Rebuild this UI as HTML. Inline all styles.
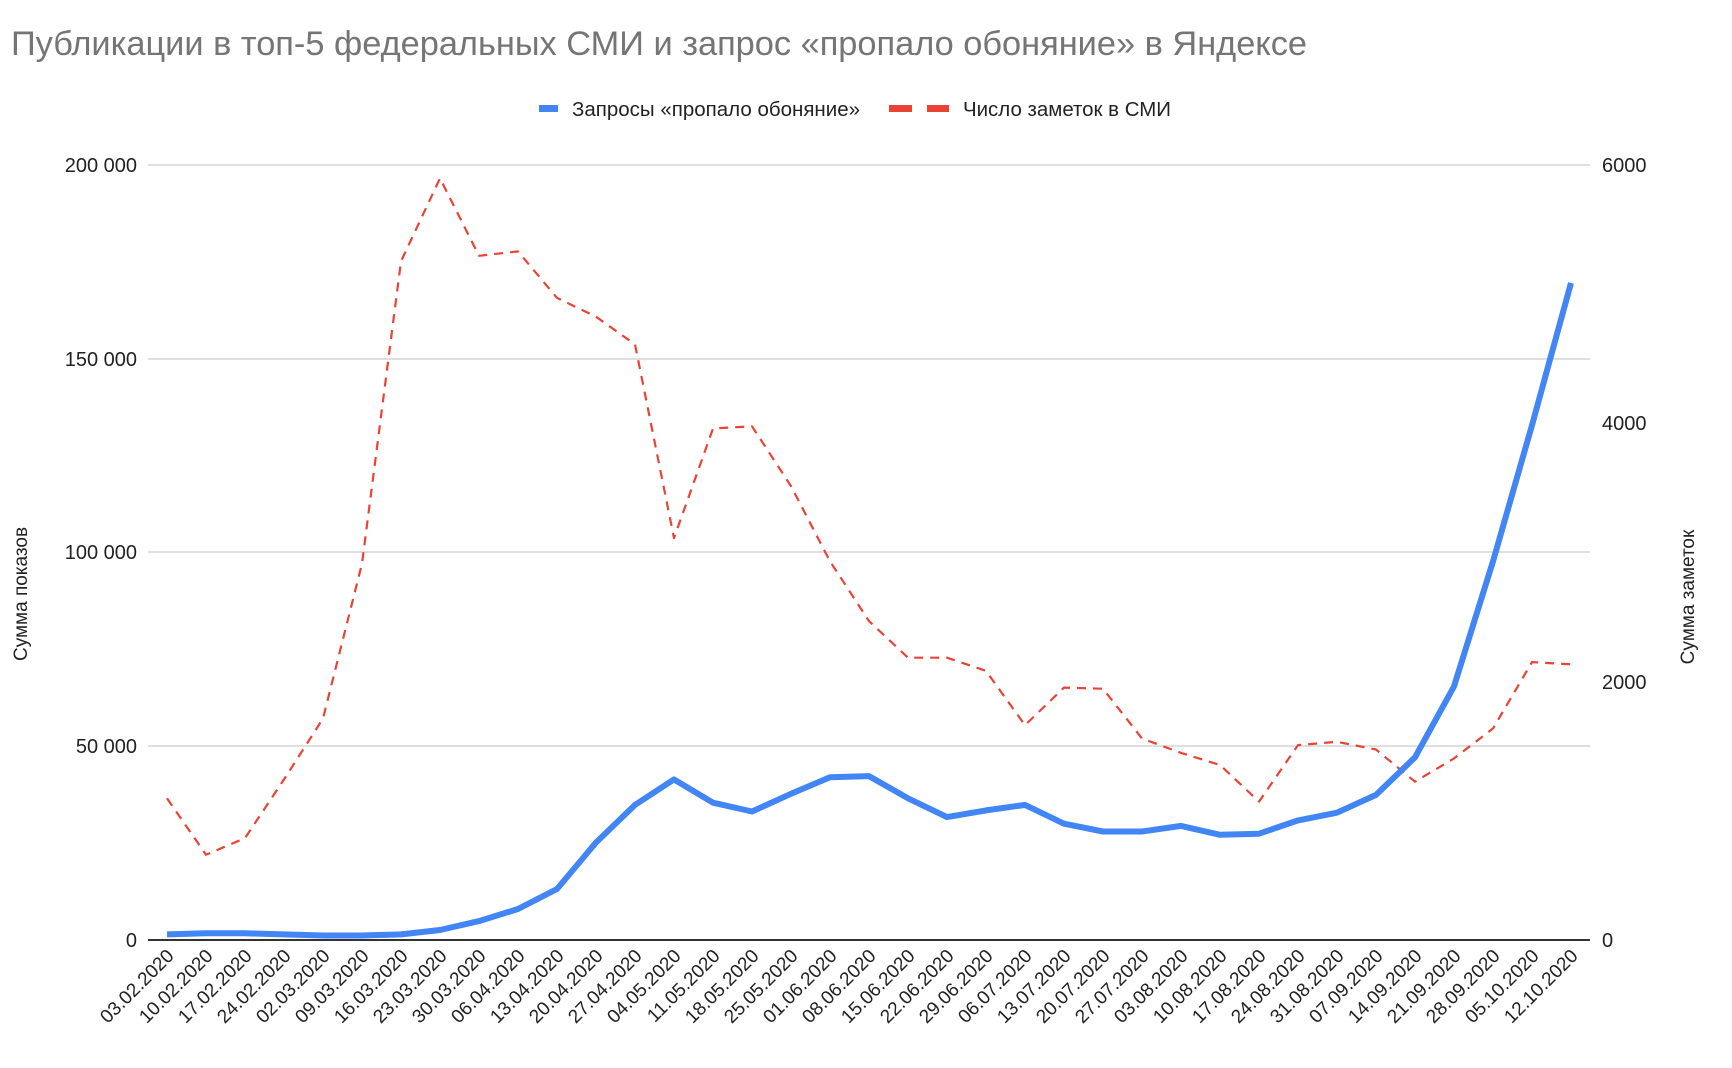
<!DOCTYPE html>
<html><head><meta charset="utf-8"><style>
html,body{margin:0;padding:0;background:#fff;}
svg{display:block;font-family:"Liberation Sans","Noto Sans CJK SC",sans-serif;}
</style></head><body>
<svg id="c" width="1732" height="1068" viewBox="0 0 1732 1068" xmlns="http://www.w3.org/2000/svg">
<rect width="1732" height="1068" fill="#fff"/>
<text x="11" y="55" font-size="34" fill="#757575" textLength="1296" lengthAdjust="spacingAndGlyphs">Публикации в топ-5 федеральных СМИ и запрос «пропало обоняние» в Яндексе</text>
<rect x="539" y="105" width="19" height="7" fill="#4285f4"/>
<text x="572" y="116" font-size="20" fill="#222" textLength="288" lengthAdjust="spacingAndGlyphs">Запросы «пропало обоняние»</text>
<rect x="889" y="105" width="23" height="7" fill="#ea4335"/>
<rect x="927" y="105" width="22" height="7" fill="#ea4335"/>
<text x="963" y="116" font-size="20" fill="#222" textLength="208" lengthAdjust="spacingAndGlyphs">Число заметок в СМИ</text>
<g stroke="#cccccc" stroke-width="1.3">
<line x1="148" x2="1590" y1="165" y2="165"/>
<line x1="148" x2="1590" y1="359" y2="359"/>
<line x1="148" x2="1590" y1="552" y2="552"/>
<line x1="148" x2="1590" y1="746" y2="746"/>
</g>
<line x1="148" x2="1590" y1="940" y2="940" stroke="#333" stroke-width="2"/>
<g font-size="20" fill="#222" text-anchor="end">
<text x="137" y="172">200 000</text>
<text x="137" y="366">150 000</text>
<text x="137" y="559">100 000</text>
<text x="137" y="753">50 000</text>
<text x="137" y="947">0</text>
</g>
<g font-size="20" fill="#222">
<text x="1602" y="172">6000</text>
<text x="1602" y="430">4000</text>
<text x="1602" y="689">2000</text>
<text x="1602" y="947">0</text>
</g>
<text transform="translate(27,594) rotate(-90)" font-size="19" fill="#222" text-anchor="middle">Сумма показов</text>
<text transform="translate(1694,597) rotate(-90)" font-size="19" fill="#222" text-anchor="middle">Сумма заметок</text>
<g id="xl" font-size="19" fill="#222" text-anchor="end">
<text transform="translate(175,957) rotate(-45)">03.02.2020</text>
<text transform="translate(214,957) rotate(-45)">10.02.2020</text>
<text transform="translate(253,957) rotate(-45)">17.02.2020</text>
<text transform="translate(292,957) rotate(-45)">24.02.2020</text>
<text transform="translate(331,957) rotate(-45)">02.03.2020</text>
<text transform="translate(370,957) rotate(-45)">09.03.2020</text>
<text transform="translate(409,957) rotate(-45)">16.03.2020</text>
<text transform="translate(448,957) rotate(-45)">23.03.2020</text>
<text transform="translate(487,957) rotate(-45)">30.03.2020</text>
<text transform="translate(526,957) rotate(-45)">06.04.2020</text>
<text transform="translate(565,957) rotate(-45)">13.04.2020</text>
<text transform="translate(604,957) rotate(-45)">20.04.2020</text>
<text transform="translate(643,957) rotate(-45)">27.04.2020</text>
<text transform="translate(682,957) rotate(-45)">04.05.2020</text>
<text transform="translate(721,957) rotate(-45)">11.05.2020</text>
<text transform="translate(760,957) rotate(-45)">18.05.2020</text>
<text transform="translate(799,957) rotate(-45)">25.05.2020</text>
<text transform="translate(838,957) rotate(-45)">01.06.2020</text>
<text transform="translate(877,957) rotate(-45)">08.06.2020</text>
<text transform="translate(916,957) rotate(-45)">15.06.2020</text>
<text transform="translate(955,957) rotate(-45)">22.06.2020</text>
<text transform="translate(994,957) rotate(-45)">29.06.2020</text>
<text transform="translate(1033,957) rotate(-45)">06.07.2020</text>
<text transform="translate(1072,957) rotate(-45)">13.07.2020</text>
<text transform="translate(1111,957) rotate(-45)">20.07.2020</text>
<text transform="translate(1150,957) rotate(-45)">27.07.2020</text>
<text transform="translate(1189,957) rotate(-45)">03.08.2020</text>
<text transform="translate(1228,957) rotate(-45)">10.08.2020</text>
<text transform="translate(1267,957) rotate(-45)">17.08.2020</text>
<text transform="translate(1306,957) rotate(-45)">24.08.2020</text>
<text transform="translate(1345,957) rotate(-45)">31.08.2020</text>
<text transform="translate(1384,957) rotate(-45)">07.09.2020</text>
<text transform="translate(1423,957) rotate(-45)">14.09.2020</text>
<text transform="translate(1462,957) rotate(-45)">21.09.2020</text>
<text transform="translate(1501,957) rotate(-45)">28.09.2020</text>
<text transform="translate(1540,957) rotate(-45)">05.10.2020</text>
<text transform="translate(1579,957) rotate(-45)">12.10.2020</text>
</g>
<path id="red" fill="none" stroke="#ea4335" stroke-width="2.2" stroke-dasharray="9,7" stroke-linejoin="round"/>
<path id="blue" fill="none" stroke="#4285f4" stroke-width="6" stroke-linejoin="round" stroke-linecap="butt"/>
</svg>
<script>
var b=[845,844,844,845,846,846,845,841,833,822,804,762,728,705,726,734,718,703,702,722,739,733,728,745,752,752,747,755,754,742,735,719,685,621,508,385,256.5];
var r=[722,773,758,705,650,510,237,162,232,228,270,287,312,487,388,386,440,508,562,595,595,607,656,622,623,668,681,692,725,674,671,678,707,686,659,599,601];
function p(a){var s='';for(var i=0;i<a.length;i++){var x=167+39*i,y=165+(a[i]-150)*1.1071;s+=(i?'L':'M')+x.toFixed(1)+' '+y.toFixed(1);}return s;}
document.getElementById('blue').setAttribute('d',p(b));
document.getElementById('red').setAttribute('d',p(r));
</script>
</body></html>
